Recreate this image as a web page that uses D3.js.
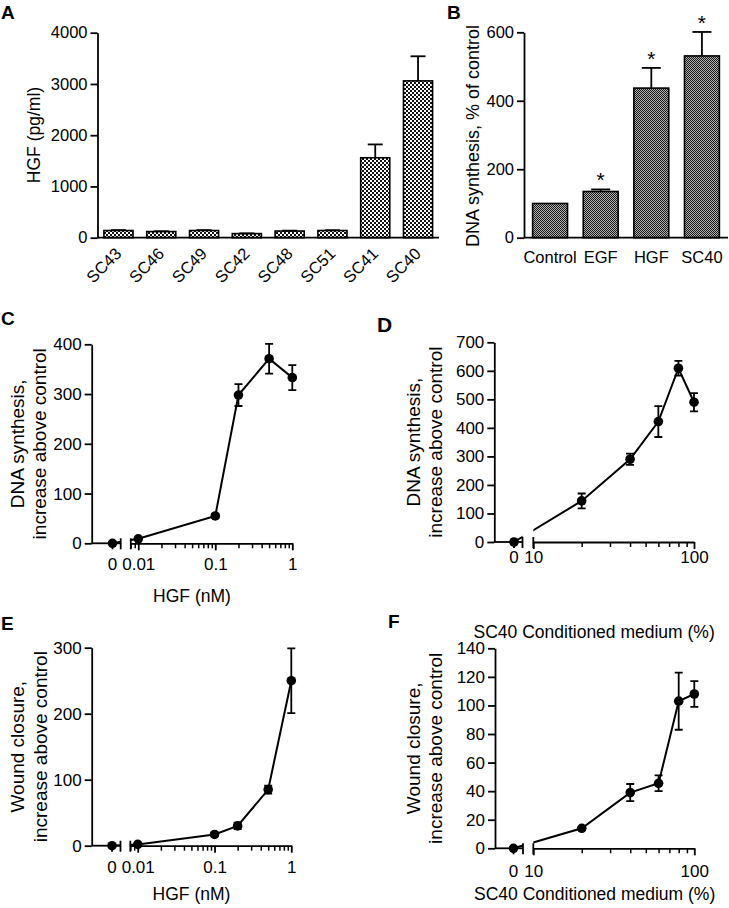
<!DOCTYPE html>
<html>
<head>
<meta charset="utf-8">
<script src="https://cdn.jsdelivr.net/npm/d3@7"></script>
<style>
  body { margin: 0; background: #fff; }
  svg { font-family: "Liberation Sans", Arial, Helvetica, sans-serif; }
</style>
</head>
<body>
<svg id="fig" width="729" height="908"></svg>
<script>
// A: HGF secreted by cell lines
const linesA = ["SC43", "SC46", "SC49", "SC42", "SC48", "SC51", "SC41", "SC40"];
const hgfA = [140, 120, 140, 80, 130, 140, 1560, 3060];
const errA = [8, 6, 8, 5, 8, 6, 260, 480];
const ticksA = [0, 1000, 2000, 3000, 4000];

// B: DNA synthesis, % of control
const treatB = ["Control", "EGF", "HGF", "SC40"];
const dnaB = [100, 135, 437, 531];
const errB = [0, 6, 59, 70];
const starB = [false, true, true, true];
const ticksB = [0, 200, 400, 600];

// C: DNA synthesis vs HGF (nM)
const doseC = [0, 0.01, 0.1, 0.2, 0.5, 1];
const dnaC = [0, 9, 55, 298, 371, 333];
const errC = [0, 0, 4, 22, 30, 25];
const ticksC = [0, 100, 200, 300, 400];

// D: DNA synthesis vs SC40 conditioned medium (%)
const doseD = [0, 20, 40, 60, 80, 100];
const dnaD = [0, 144, 290, 422, 609, 490];
const errD = [0, 26, 20, 54, 26, 32];
const ticksD = [0, 100, 200, 300, 400, 500, 600, 700];

// E: wound closure vs HGF (nM)
const doseE = [0, 0.01, 0.1, 0.2, 0.5, 1];
const woundE = [0, 2, 17, 30, 85, 250];
const errE = [0, 0, 3, 5, 6, 49];
const ticksE = [0, 100, 200, 300];

// F: wound closure vs SC40 conditioned medium (%)
const doseF = [0, 20, 40, 60, 80, 100];
const woundF = [0, 14, 39, 45.5, 103, 108];
const errF = [0, 1, 6, 5.5, 20, 9];
const ticksF = [0, 20, 40, 60, 80, 100, 120, 140];

const hgfMajor = [0.01, 0.1, 1];
const hgfMinor = [0.008, 0.009, 0.02, 0.03, 0.04, 0.05, 0.06, 0.07, 0.08, 0.09,
                  0.2, 0.3, 0.4, 0.5, 0.6, 0.7, 0.8, 0.9];
const cmMajor = [10, 100];
const cmMinor = [20, 30, 40, 50, 60, 70, 80, 90];

const svg = d3.select("#fig");
const defs = svg.append("defs");

// checkered fills
const patA = defs.append("pattern").attr("id", "checkA")
  .attr("patternUnits", "userSpaceOnUse").attr("width", 4).attr("height", 4);
patA.append("rect").attr("width", 4).attr("height", 4).attr("fill", "#fff");
patA.append("rect").attr("width", 2).attr("height", 2).attr("fill", "#111");
patA.append("rect").attr("x", 2).attr("y", 2).attr("width", 2).attr("height", 2).attr("fill", "#111");

const patB = defs.append("pattern").attr("id", "checkB")
  .attr("patternUnits", "userSpaceOnUse").attr("width", 2).attr("height", 2);
patB.append("rect").attr("width", 2).attr("height", 2).attr("fill", "#b0b0b0");
patB.append("rect").attr("width", 1).attr("height", 1).attr("fill", "#1a1a1a");
patB.append("rect").attr("x", 1).attr("y", 1).attr("width", 1).attr("height", 1).attr("fill", "#1a1a1a");

const letter = (t, x, y, size) => svg.append("text")
  .attr("x", x).attr("y", y).attr("font-size", size || 19)
  .attr("font-weight", "bold").text(t);

const yAxis = function (g, y, ticks, fs) {
  g.call(d3.axisLeft(y).tickValues(ticks).tickFormat(d3.format("d"))
    .tickSize(7).tickSizeOuter(0).tickPadding(3));
  g.select(".domain").attr("stroke-width", 1.8);
  g.selectAll(".tick line").attr("stroke-width", 1.8);
  g.selectAll(".tick text").attr("font-size", fs).attr("fill", "#000");
  g.attr("font-family", null);
};

const yLabel = function (lines, xs, cy, fs) {
  lines.forEach((t, i) => {
    svg.append("text")
      .attr("transform", `translate(${xs[i]},${cy}) rotate(-90)`)
      .attr("text-anchor", "middle").attr("font-size", fs).text(t);
  });
};

function barPanel(c) {
  const y = d3.scaleLinear().domain(c.domain).range(c.yRange);
  const x = d3.scaleBand().domain(c.cats).range(c.xRange)
    .paddingInner(c.padIn).paddingOuter(c.padOut);
  const y0 = y(0);
  const g = svg.append("g");

  g.selectAll("rect.bar").data(c.cats).join("rect")
    .attr("x", d => x(d)).attr("width", x.bandwidth())
    .attr("y", (d, i) => y(c.vals[i])).attr("height", (d, i) => y0 - y(c.vals[i]))
    .attr("fill", c.fill).attr("stroke", "#000").attr("stroke-width", 1.6);

  c.cats.forEach((d, i) => {
    if (!c.errs[i]) return;
    const cx = x(d) + x.bandwidth() / 2, top = y(c.vals[i] + c.errs[i]);
    g.append("line").attr("x1", cx).attr("x2", cx)
      .attr("y1", y(c.vals[i])).attr("y2", top).attr("stroke", "#000").attr("stroke-width", 1.8);
    g.append("line").attr("x1", cx - c.cap / 2).attr("x2", cx + c.cap / 2)
      .attr("y1", top).attr("y2", top).attr("stroke", "#000").attr("stroke-width", 1.8);
    if (c.stars && c.stars[i]) {
      g.append("text").attr("x", cx).attr("y", top - 2).attr("text-anchor", "middle")
        .attr("font-size", 21).text("*");
    }
  });

  g.append("line").attr("x1", c.xRange[0]).attr("x2", c.xRange[1])
    .attr("y1", y0).attr("y2", y0).attr("stroke", "#000").attr("stroke-width", 1.8);
  yAxis(g.append("g").attr("transform", `translate(${c.xRange[0]},0)`), y, c.ticks, c.tickFont);

  c.cats.forEach(d => {
    const cx = x(d) + x.bandwidth() / 2;
    if (c.rotate) {
      g.append("text").attr("transform", `translate(${cx + 4},${y0 + 17}) rotate(-45)`)
        .attr("text-anchor", "end").attr("font-size", c.tickFont).text(d);
    } else {
      g.append("text").attr("x", cx).attr("y", y0 + 25).attr("text-anchor", "middle")
        .attr("font-size", c.tickFont).text(d);
    }
  });
}

let clipId = 0;
function dosePanel(c) {
  const TF = 17;
  const y = d3.scaleLinear().domain(c.domain).range(c.yRange);
  const xl = d3.scaleLog().domain(c.logDomain).range(c.logRange);
  const xpos = d => d === 0 ? c.zeroX : xl(d);
  const y0 = y(0);
  const segStart = c.logRange[0];
  const g = svg.append("g");

  // x axis: zero segment, break, log segment
  g.append("line").attr("x1", c.axisX).attr("x2", c.breakX).attr("y1", y0).attr("y2", y0)
    .attr("stroke", "#000").attr("stroke-width", 1.8);
  [c.breakX, segStart].forEach(bx => g.append("line")
    .attr("x1", bx).attr("x2", bx).attr("y1", y0 - 5).attr("y2", y0 + 6)
    .attr("stroke", "#000").attr("stroke-width", 1.8));
  g.append("line").attr("x1", c.zeroX).attr("x2", c.zeroX).attr("y1", y0).attr("y2", y0 + 6)
    .attr("stroke", "#000").attr("stroke-width", 1.8);

  const minorG = g.append("g").attr("transform", `translate(0,${y0})`)
    .call(d3.axisBottom(xl).tickValues(c.minor).tickSize(5).tickSizeOuter(0).tickFormat(""));
  minorG.select(".domain").attr("stroke-width", 1.8);
  minorG.selectAll(".tick line").attr("stroke-width", 1.5);
  const majorG = g.append("g").attr("transform", `translate(0,${y0})`)
    .call(d3.axisBottom(xl).tickValues(c.major).tickSize(7).tickSizeOuter(0)
      .tickPadding(c.xPad).tickFormat(d => String(d)));
  majorG.attr("font-family", null);
  majorG.select(".domain").remove();
  majorG.selectAll(".tick line").attr("stroke-width", 1.8);
  majorG.selectAll(".tick text").attr("font-size", TF).attr("fill", "#000");
  g.append("text").attr("x", c.zeroX).attr("y", y0 + 7 + c.xPad).attr("dy", "0.71em")
    .attr("text-anchor", "middle").attr("font-size", TF).text("0");

  yAxis(g.append("g").attr("transform", `translate(${c.axisX},0)`), y, c.ticks, TF);

  // connecting line, hidden in the axis gap
  const id = "gap" + (clipId++);
  const clip = defs.append("clipPath").attr("id", id);
  clip.append("rect").attr("x", c.axisX - 20).attr("y", 0).attr("width", c.breakX - c.axisX + 20).attr("height", 908);
  clip.append("rect").attr("x", segStart).attr("y", 0).attr("width", 729 - segStart).attr("height", 908);

  const pts = c.dose.map((d, i) => ({ d, v: c.vals[i], e: c.errs[i] }));
  g.append("path").datum(pts).attr("clip-path", `url(#${id})`)
    .attr("fill", "none").attr("stroke", "#000").attr("stroke-width", 2)
    .attr("d", d3.line().x(p => xpos(p.d)).y(p => y(p.v)));

  pts.filter(p => p.e > 0).forEach(p => {
    const cx = xpos(p.d), t = y(p.v + p.e), b = y(p.v - p.e);
    g.append("path").attr("fill", "none").attr("stroke", "#000").attr("stroke-width", 1.8)
      .attr("d", `M${cx},${t}V${b}M${cx - 4},${t}H${cx + 4}M${cx - 4},${b}H${cx + 4}`);
  });
  g.selectAll("circle").data(pts).join("circle")
    .attr("cx", p => xpos(p.d)).attr("cy", p => y(p.v)).attr("r", 4.8).attr("fill", "#000");

  g.append("text").attr("x", (c.axisX + c.logRange[1]) / 2).attr("y", c.xLabelY)
    .attr("text-anchor", "middle").attr("font-size", 17.5).text(c.xLabel);
  yLabel(c.yLabel, c.yLabelX, (c.yRange[0] + c.yRange[1]) / 2, 19);
}

// ---- A ----
letter("A", 1, 18.5);
barPanel({
  cats: linesA, vals: hgfA, errs: errA, ticks: ticksA, domain: [0, 4000],
  yRange: [237.7, 32.7], xRange: [97.5, 439], padIn: 0.32, padOut: 0.15,
  fill: "url(#checkA)", cap: 15, rotate: true, tickFont: 16.5
});
yLabel(["HGF (pg/ml)"], [40], 135, 17.5);

// ---- B ----
letter("B", 447, 18.5);
barPanel({
  cats: treatB, vals: dnaB, errs: errB, stars: starB, ticks: ticksB, domain: [0, 600],
  yRange: [237.7, 32.3], xRange: [524, 728], padIn: 0.31, padOut: 0.17,
  fill: "url(#checkB)", cap: 19, rotate: false, tickFont: 16.5
});
yLabel(["DNA synthesis, % of control"], [479], 136, 18);

// ---- C ----
letter("C", 1, 325);
dosePanel({
  dose: doseC, vals: dnaC, errs: errC, ticks: ticksC, domain: [0, 400],
  yRange: [543.3, 344.3], axisX: 91.7, zeroX: 112.5, breakX: 120.7,
  logDomain: [0.008, 1], logRange: [130.8, 292.3], major: hgfMajor, minor: hgfMinor,
  xPad: 8, xLabel: "HGF (nM)", xLabelY: 602,
  yLabel: ["DNA synthesis,", "increase above control"], yLabelX: [24, 46]
});

// ---- D ----
letter("D", 377, 331.5, 21);
dosePanel({
  dose: doseD, vals: dnaD, errs: errD, ticks: ticksD, domain: [0, 700],
  yRange: [542, 342.3], axisX: 494.3, zeroX: 514, breakX: 522.5,
  logDomain: [10, 100], logRange: [533.3, 694], major: cmMajor, minor: cmMinor,
  xPad: 1.5, xLabel: "SC40 Conditioned medium (%)", xLabelY: 638,
  yLabel: ["DNA synthesis,", "increase above control"], yLabelX: [420, 442]
});

// ---- E ----
letter("E", 1, 630);
dosePanel({
  dose: doseE, vals: woundE, errs: errE, ticks: ticksE, domain: [0, 300],
  yRange: [845.7, 647.7], axisX: 91.7, zeroX: 112, breakX: 120.5,
  logDomain: [0.008, 1], logRange: [130.3, 291.3], major: hgfMajor, minor: hgfMinor,
  xPad: 8.5, xLabel: "HGF (nM)", xLabelY: 900,
  yLabel: ["Wound closure,", "increase above control"], yLabelX: [24, 47]
});

// ---- F ----
letter("F", 388, 628);
dosePanel({
  dose: doseF, vals: woundF, errs: errF, ticks: ticksF, domain: [0, 140],
  yRange: [848.3, 648.3], axisX: 495, zeroX: 513.5, breakX: 523,
  logDomain: [10, 100], logRange: [533.3, 694.3], major: cmMajor, minor: cmMinor,
  xPad: 9.5, xLabel: "SC40 Conditioned medium (%)", xLabelY: 900,
  yLabel: ["Wound closure,", "increase above control"], yLabelX: [420, 442]
});
</script>
</body>
</html>
